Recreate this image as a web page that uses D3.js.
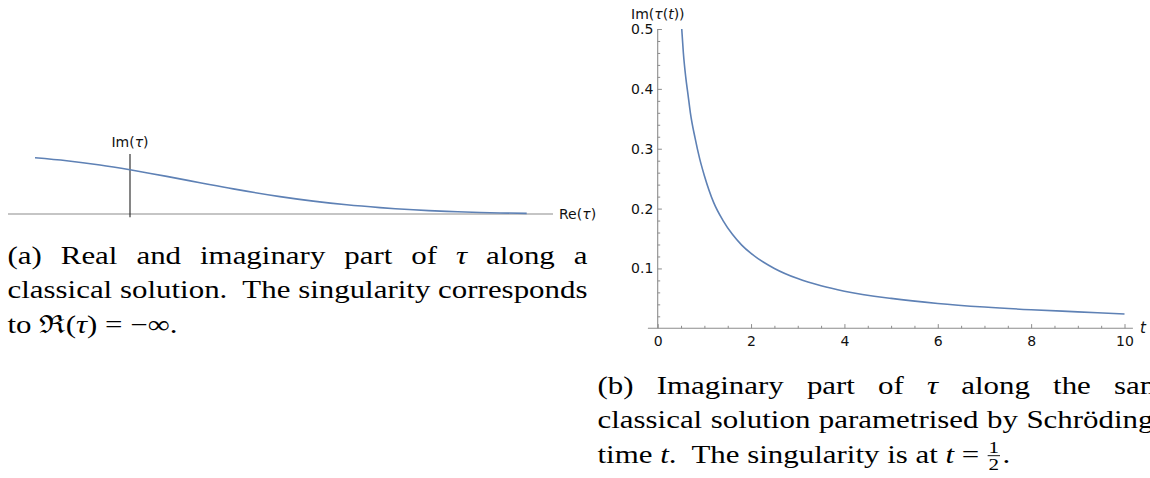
<!DOCTYPE html>
<html>
<head>
<meta charset="utf-8">
<script src="https://cdn.jsdelivr.net/npm/d3@7"></script>
<style>
  html, body { margin: 0; padding: 0; background: #fff; }
  svg { display: block; }
</style>
</head>
<body>
<svg id="chart" width="1150" height="478"></svg>
<script>
// ---------- Data ----------
// Panel (a): parametric curve (Re(tau), Im(tau)) in arbitrary units
const reTau = [-0.95, -0.633, -0.30, 0.0, 0.367, 0.70, 1.033, 1.50, 1.833, 2.167, 2.50, 2.833, 3.167, 3.50, 3.967];
const imTau = [0.563, 0.533, 0.490, 0.442, 0.376, 0.313, 0.251, 0.174, 0.129, 0.092, 0.064, 0.042, 0.026, 0.015, 0.006];

// Panel (b): Im(tau(t)) against Schrödinger time t
const tValues   = [0.515, 0.55, 0.6, 0.65, 0.7, 0.8, 0.9, 1.0, 1.2, 1.4, 1.6, 1.8, 2.0, 2.5, 3.0, 3.5, 4.0, 5.0, 6.0, 7.0, 8.0, 9.0, 10.0];
const imTValues = [0.500, 0.460, 0.420, 0.390, 0.360, 0.318, 0.283, 0.255, 0.210, 0.180, 0.157, 0.139, 0.125, 0.100, 0.083, 0.071, 0.062, 0.050, 0.0415, 0.0355, 0.031, 0.0275, 0.024];

const xTicksB = [0, 2, 4, 6, 8, 10];
const yTicksB = [0.1, 0.2, 0.3, 0.4, 0.5];

const captionA = [
  [{t: "(a) Real and imaginary part of "}, {t: "τ", i: true}, {t: " along a"}],
  [{t: "classical solution.  The singularity corresponds"}],
  [{t: "to "}, {t: "ℜ"}, {t: "("}, {t: "τ", i: true}, {t: ") = −∞."}]
];
const captionB = [
  [{t: "(b) Imaginary part of "}, {t: "τ", i: true}, {t: " along the same"}],
  [{t: "classical solution parametrised by Schrödinger"}],
  [{t: "time "}, {t: "t", i: true}, {t: ".  The singularity is at "}, {t: "t", i: true}, {t: " = "}]
];

// ---------- Setup ----------
const svg = d3.select("#chart");
const sans = "'DejaVu Sans', Verdana, sans-serif";
const serif = "'Liberation Serif', 'Times New Roman', serif";
const curveColor = "#5E81B5";
const axisGray = "#8c8c8c";
const labSize = 14;

// ---------- Panel (a) ----------
const xa = d3.scaleLinear().domain([0, 1]).range([130, 230]);
const ya = d3.scaleLinear().domain([0, 1]).range([214, 114]);
const gA = svg.append("g");

gA.append("line")
  .attr("x1", xa(-1.22)).attr("x2", xa(4.23))
  .attr("y1", ya(0)).attr("y2", ya(0))
  .attr("stroke", axisGray).attr("stroke-width", 1.2);
gA.append("line")
  .attr("x1", xa(0)).attr("x2", xa(0))
  .attr("y1", ya(0.6)).attr("y2", ya(-0.033))
  .attr("stroke", "#222").attr("stroke-width", 1.1);

const dataA = reTau.map((r, i) => [r, imTau[i]]);
gA.append("path")
  .datum(dataA)
  .attr("fill", "none").attr("stroke", curveColor).attr("stroke-width", 1.6)
  .attr("d", d3.line().x(d => xa(d[0])).y(d => ya(d[1])).curve(d3.curveCatmullRom));

const imLab = gA.append("text")
  .attr("x", xa(0)).attr("y", 146.5).attr("text-anchor", "middle")
  .attr("font-family", sans).attr("font-size", labSize).attr("fill", "#111");
imLab.append("tspan").text("Im(");
imLab.append("tspan").attr("font-style", "italic").text("τ");
imLab.append("tspan").text(")");

const reLab = gA.append("text")
  .attr("x", xa(4.29)).attr("y", ya(0) + 5)
  .attr("font-family", sans).attr("font-size", labSize).attr("fill", "#111");
reLab.append("tspan").text("Re(");
reLab.append("tspan").attr("font-style", "italic").text("τ");
reLab.append("tspan").text(")");

// ---------- Panel (b) ----------
const xb = d3.scaleLinear().domain([0, 10]).range([657.7, 1124.5]);
const yb = d3.scaleLinear().domain([0, 0.5]).range([328.3, 29]);
const gB = svg.append("g");

// axis lines
gB.append("line")
  .attr("x1", xb(-0.21)).attr("x2", xb(10.18))
  .attr("y1", yb(0)).attr("y2", yb(0))
  .attr("stroke", axisGray).attr("stroke-width", 1.1);
gB.append("line")
  .attr("x1", xb(0)).attr("x2", xb(0))
  .attr("y1", yb(0)).attr("y2", yb(0.5))
  .attr("stroke", axisGray).attr("stroke-width", 1.1);

// x minor ticks
const xMinor = d3.range(1, 21).map(k => k * 0.5).filter(v => v % 2 !== 0);
gB.append("g").attr("transform", `translate(0,${yb(0)})`)
  .call(d3.axisBottom(xb).tickValues(xMinor).tickFormat("").tickSizeInner(-2.5).tickSizeOuter(0))
  .call(g => g.select(".domain").remove())
  .call(g => g.selectAll("line").attr("stroke", axisGray));
// x major ticks
gB.append("g").attr("transform", `translate(0,${yb(0)})`)
  .call(d3.axisBottom(xb).tickValues(xTicksB).tickFormat(d3.format("d")).tickSizeInner(-4.2).tickSizeOuter(0).tickPadding(8))
  .call(g => g.select(".domain").remove())
  .call(g => g.selectAll("line").attr("stroke", axisGray))
  .call(g => g.selectAll("text").attr("font-family", sans).attr("font-size", labSize).attr("fill", "#111"));

// y minor ticks
const yMinor = d3.range(1, 26).map(k => +(k * 0.02).toFixed(2)).filter(v => Math.abs(v * 10 - Math.round(v * 10)) > 1e-6);
gB.append("g").attr("transform", `translate(${xb(0)},0)`)
  .call(d3.axisLeft(yb).tickValues(yMinor).tickFormat("").tickSizeInner(-2.5).tickSizeOuter(0))
  .call(g => g.select(".domain").remove())
  .call(g => g.selectAll("line").attr("stroke", axisGray));
// y major ticks
gB.append("g").attr("transform", `translate(${xb(0)},0)`)
  .call(d3.axisLeft(yb).tickValues(yTicksB).tickFormat(d3.format(".1f")).tickSizeInner(-4.2).tickSizeOuter(0).tickPadding(4.4))
  .call(g => g.select(".domain").remove())
  .call(g => g.selectAll("line").attr("stroke", axisGray))
  .call(g => g.selectAll("text").attr("font-family", sans).attr("font-size", labSize).attr("fill", "#111"));

// curve
const dataB = tValues.map((t, i) => [t, imTValues[i]]);
gB.append("path")
  .datum(dataB)
  .attr("fill", "none").attr("stroke", curveColor).attr("stroke-width", 1.6)
  .attr("d", d3.line().x(d => xb(d[0])).y(d => yb(d[1])).curve(d3.curveMonotoneX));

// axis labels
const yLab = gB.append("text")
  .attr("x", 631).attr("y", 18.5)
  .attr("font-family", sans).attr("font-size", labSize).attr("fill", "#111");
yLab.append("tspan").text("Im(");
yLab.append("tspan").attr("font-style", "italic").text("τ");
yLab.append("tspan").text("(");
yLab.append("tspan").attr("font-style", "italic").text("t");
yLab.append("tspan").text("))");

gB.append("text")
  .attr("x", xb(10.33)).attr("y", yb(0) + 4.5)
  .attr("font-family", sans).attr("font-size", 15).attr("font-style", "italic").attr("fill", "#111")
  .text("t");

// ---------- Captions ----------
const capSize = 25;
const colWidth = 580;

function addLine(g, segs, y) {
  const t = g.append("text")
    .attr("x", 0).attr("y", y)
    .attr("font-family", serif).attr("font-size", capSize).attr("fill", "#000")
    .style("white-space", "pre");
  segs.forEach(s => {
    t.append("tspan").attr("font-style", s.i ? "italic" : null).text(s.t);
  });
  return t;
}

// horizontal stretch: derived from the tightly set line (a)-2
const probe = addLine(svg, captionA[1], -100);
const sx = colWidth / probe.node().getComputedTextLength();
probe.remove();

function justify(t) {
  const w = t.node().getComputedTextLength();
  const txt = t.text();
  const n = (txt.match(/ /g) || []).length;
  const ws = (colWidth / sx - w) / n;
  t.style("word-spacing", ws + "px");
}

const gCapA = svg.append("g").attr("transform", `translate(7.5,0) scale(${sx},1)`);
const aBase = [264.5, 298.5, 333.5];
captionA.forEach((segs, i) => {
  const t = addLine(gCapA, segs, aBase[i]);
  if (i < 2) justify(t);
});

const gCapB = svg.append("g").attr("transform", `translate(597.5,0) scale(${sx},1)`);
const bBase = [394.3, 428.3, 462.7];
captionB.forEach((segs, i) => {
  const t = addLine(gCapB, segs, bBase[i]);
  if (i < 2) justify(t);
  if (i === 2) {
    const w = t.node().getComputedTextLength();
    const cx = w + 5.5;
    const y = bBase[2];
    gCapB.append("text").attr("x", cx).attr("y", y - 9.5).attr("text-anchor", "middle")
      .attr("font-family", serif).attr("font-size", 17).attr("fill", "#000").text("1");
    gCapB.append("line").attr("x1", cx - 5).attr("x2", cx + 5)
      .attr("y1", y - 7).attr("y2", y - 7).attr("stroke", "#000").attr("stroke-width", 0.9);
    gCapB.append("text").attr("x", cx).attr("y", y + 7.5).attr("text-anchor", "middle")
      .attr("font-family", serif).attr("font-size", 17).attr("fill", "#000").text("2");
    gCapB.append("text").attr("x", cx + 7).attr("y", y)
      .attr("font-family", serif).attr("font-size", capSize).attr("fill", "#000").text(".");
  }
});
</script>
</body>
</html>
